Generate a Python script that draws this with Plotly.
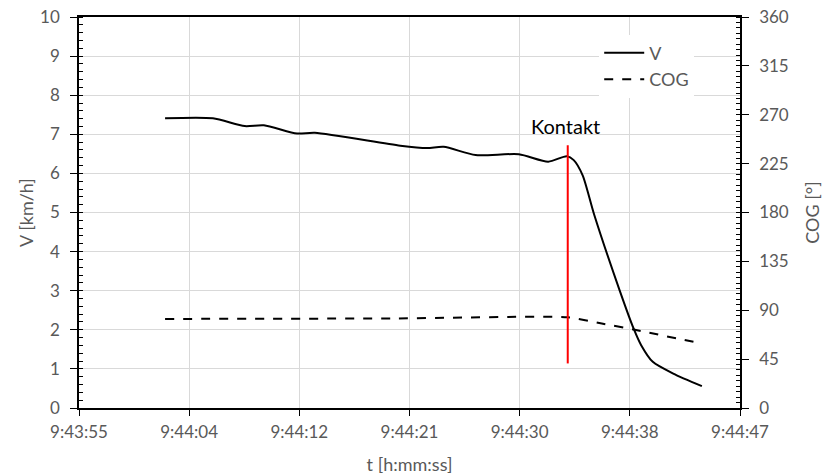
import pandas as pd
import plotly.graph_objects as go

day = "2024-01-01 "

# Speed series
v_times = ["09:44:01.75", "09:44:05.50", "09:44:08.00", "09:44:09.50", "09:44:12.10",
           "09:44:13.50", "09:44:20.20", "09:44:22.30", "09:44:23.60", "09:44:26.10",
           "09:44:29.50", "09:44:31.80", "09:44:33.25", "09:44:33.80", "09:44:34.50",
           "09:44:35.40", "09:44:37.40", "09:44:38.50", "09:44:39.10", "09:44:40.00",
           "09:44:41.60", "09:44:43.85"]
v_values = [7.41, 7.41, 7.21, 7.23, 7.02, 7.04, 6.71, 6.65, 6.68, 6.47,
            6.49, 6.30, 6.44, 6.34, 5.95, 4.95, 3.01, 2.03, 1.60, 1.18, 0.88, 0.56]

# Course over ground series
cog_times = ["09:44:01.75", "09:44:20.00", "09:44:33.30", "09:44:36.00", "09:44:38.50", "09:44:43.85"]
cog_values = [82.0, 82.5, 83.6, 77.8, 72.2, 59.3]

# Contact marker
contact_time = "09:44:33.33"
contact_v_range = [1.14, 6.72]
contact_label = "Kontakt"

# Axis ticks
x_start = "09:43:55"
x_step_s = 8.64
x_tick_labels = ["9:43:55", "9:44:04", "9:44:12", "9:44:21", "9:44:30", "9:44:38", "9:44:47"]

t0 = pd.Timestamp(day + x_start)
x_tickvals = [t0 + pd.Timedelta(seconds=x_step_s * i) for i in range(len(x_tick_labels))]
x_end = x_tickvals[-1]

vt = pd.to_datetime([day + t for t in v_times])
ct = pd.to_datetime([day + t for t in cog_times])
kt = pd.Timestamp(day + contact_time)

FONT = "Lato"
GRAY = "#595959"

fig = go.Figure()
fig.add_trace(go.Scatter(x=vt, y=v_values, name="V", mode="lines",
                         line=dict(color="black", width=2, shape="spline", smoothing=0.7)))
fig.add_trace(go.Scatter(x=ct, y=cog_values, name="COG", mode="lines", yaxis="y2",
                         line=dict(color="black", width=2, dash="dash", shape="spline", smoothing=0.5)))

fig.add_shape(type="line", xref="x", yref="y", x0=kt, x1=kt,
              y0=contact_v_range[0], y1=contact_v_range[1],
              line=dict(color="red", width=2))
fig.add_annotation(x=kt - pd.Timedelta(seconds=0.2), y=7.2, xref="x", yref="y",
                   text=contact_label, showarrow=False, yanchor="middle",
                   font=dict(family=FONT, size=20, color="black"))

tickfont = dict(family=FONT, size=17, color=GRAY)
titlefont = dict(family=FONT, size=18, color=GRAY)

fig.update_layout(
    width=826, height=475,
    margin=dict(l=79, r=86, t=17, b=67),
    paper_bgcolor="white", plot_bgcolor="white",
    font=dict(family=FONT, size=17, color=GRAY),
    xaxis=dict(type="date", range=[t0, x_end], tickvals=x_tickvals, ticktext=x_tick_labels,
               showgrid=True, gridcolor="#d9d9d9", gridwidth=1,
               showline=True, linecolor="black", linewidth=1.5, mirror=True,
               ticks="outside", ticklen=6, tickcolor="black", tickfont=tickfont,
               ticklabelstandoff=2, ticklabeloverflow="allow",
               title=dict(text="t [h:mm:ss]", font=titlefont, standoff=17),
               zeroline=False, automargin=False),
    yaxis=dict(range=[0, 10], dtick=1, showgrid=True, gridcolor="#d9d9d9", gridwidth=1,
               showline=True, linecolor="black", linewidth=1.5,
               ticks="outside", ticklen=7, tickcolor="black", tickfont=tickfont,
               minor=dict(dtick=0.2, ticks="inside", ticklen=4, tickcolor="black", showgrid=False),
               ticklabelstandoff=7, ticklabeloverflow="allow",
               title=dict(text="V [km/h]", font=titlefont, standoff=2),
               zeroline=False, automargin=False),
    yaxis2=dict(range=[0, 360], dtick=45, overlaying="y", side="right", showgrid=False,
                showline=True, linecolor="black", linewidth=1.5,
                ticks="outside", ticklen=7, tickcolor="black", tickfont=tickfont,
                minor=dict(dtick=5, ticks="inside", ticklen=4, tickcolor="black", showgrid=False),
                ticklabelstandoff=7, ticklabeloverflow="allow",
                title=dict(text="COG [°]", font=titlefont, standoff=19),
                zeroline=False, automargin=False),
    legend=dict(x=0.787, y=0.955, xanchor="left", yanchor="top", bgcolor="white",
                font=dict(family=FONT, size=18, color=GRAY), itemwidth=40),
    showlegend=True,
)

# remove the default 8px page margin so the figure fills the window exactly
fig.write_html("out.html", config={"displayModeBar": False},
               post_script="document.body.style.margin='0px';")
